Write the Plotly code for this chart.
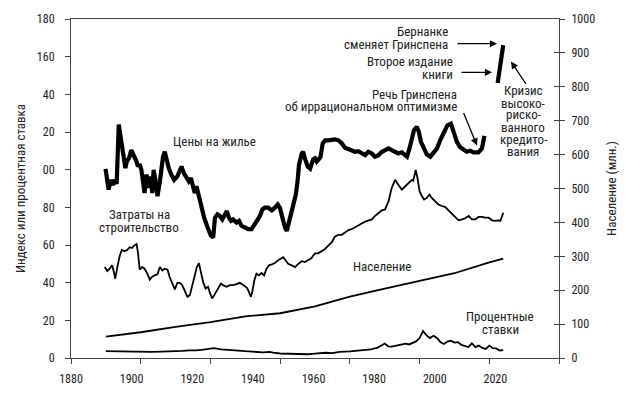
import plotly.graph_objects as go

# ---------------- data ----------------
hp_years = [1889.9, 1890.8, 1891.4, 1892.0, 1892.7, 1893.1, 1893.7, 1894.4, 1894.9, 1895.6,
            1896.0, 1896.7, 1897.3, 1898.0, 1898.8, 1899.2, 1899.7, 1900.2, 1900.7, 1901.1,
            1901.6, 1902.1, 1902.4, 1902.9, 1903.3, 1903.7, 1904.2, 1904.8, 1905.5, 1905.9,
            1906.4, 1906.9, 1907.4, 1908.0, 1908.8, 1909.6, 1910.5, 1911.7, 1912.4, 1913.1,
            1913.8, 1914.4, 1915.0, 1915.5, 1916.0, 1916.7, 1917.4, 1918.2, 1919.2, 1920.1,
            1920.8, 1921.3, 1922.0, 1922.7, 1923.4, 1924.1, 1924.7, 1925.3, 1925.9, 1926.5,
            1927.5, 1928.2, 1928.9, 1929.9, 1930.8, 1931.8, 1932.6, 1933.2, 1934.2, 1934.9,
            1935.6, 1936.6, 1937.6, 1938.5, 1939.3, 1939.9, 1940.6, 1941.4, 1941.9, 1942.3,
            1943.1, 1943.8, 1944.5, 1945.0, 1945.4, 1946.2, 1946.6, 1947.1, 1947.9, 1948.6,
            1949.0, 1949.5, 1950.0, 1950.5, 1950.9, 1951.6, 1952.2, 1952.9, 1953.8, 1954.8,
            1955.7, 1956.7, 1957.7, 1958.6, 1959.6, 1960.5, 1961.5, 1962.4, 1963.4, 1964.4,
            1965.3, 1966.3, 1967.2, 1968.2, 1969.2, 1970.1, 1971.1, 1972.0, 1973.0, 1973.9,
            1974.9, 1975.9, 1976.4, 1977.1, 1977.8, 1978.4, 1979.2, 1979.8, 1980.4, 1981.1,
            1982.1, 1983.1, 1984.0, 1985.0, 1986.0, 1986.9, 1988.0, 1989.0, 1989.9, 1990.7,
            1991.6, 1992.6, 1993.5, 1994.5, 1995.5, 1996.9, 1997.9, 1998.6]
hp_values = [100.4, 89.4, 94.6, 92.0, 94.6, 92.4, 123.9, 114.8, 109.5, 100.8,
             104.3, 106.4, 110.4, 107.7, 104.3, 101.7, 102.9, 99.9, 94.6, 87.6,
             97.3, 94.6, 90.3, 96.4, 87.6, 99.9, 94.6, 85.9, 93.8, 102.5,
             106.9, 109.5, 105.1, 101.1, 97.3, 94.6, 96.4, 101.7, 98.1, 95.5,
             93.8, 95.5, 90.3, 87.6, 91.2, 85.9, 79.8, 74.5, 69.3, 65.2,
             64.0, 74.5, 76.3, 75.4, 73.6, 76.3, 78.0, 74.5, 72.8, 73.6,
             71.9, 72.8, 70.2, 69.3, 68.4, 68.4, 71.0, 71.9, 75.4, 78.9,
             79.8, 79.8, 78.4, 79.8, 81.5, 79.8, 74.5, 69.3, 67.5, 70.2,
             76.3, 81.5, 86.8, 93.8, 102.5, 108.6, 109.5, 106.0, 101.7, 100.6,
             103.0, 105.5, 106.0, 104.3, 105.1, 106.9, 113.9, 115.6, 115.6, 116.1,
             116.1, 115.6, 113.9, 111.6, 110.9, 109.8, 109.5, 109.8, 108.6, 107.7,
             109.5, 108.6, 106.9, 107.7, 109.5, 110.4, 111.3, 110.4, 109.5, 108.6,
             109.2, 107.7, 106.9, 111.3, 116.5, 120.9, 122.8, 120.0, 114.8, 112.0,
             108.0, 106.9, 109.0, 111.3, 116.0, 120.0, 123.5, 124.4, 119.0, 114.8,
             112.0, 110.4, 109.5, 110.0, 109.2, 109.2, 111.3, 117.9]

# the late boom segment drawn separately
hp_boom_years = [2002.4, 2004.0]
hp_boom_values = [146.0, 166.1]

bc_years = [1889.7, 1890.4, 1891.1, 1891.8, 1892.3, 1892.7, 1893.3, 1894.0, 1894.6, 1895.4,
            1896.2, 1896.8, 1897.5, 1898.1, 1898.8, 1899.2, 1899.7, 1900.4, 1901.1, 1901.9,
            1902.6, 1903.2, 1904.0, 1904.8, 1905.5, 1906.2, 1906.9, 1907.7, 1908.3, 1909.0,
            1909.8, 1910.5, 1911.2, 1911.9, 1912.6, 1913.4, 1914.1, 1914.7, 1915.5, 1916.1,
            1916.7, 1917.2, 1917.9, 1918.6, 1919.3, 1919.9, 1920.5, 1921.1, 1922.2, 1923.0,
            1923.6, 1924.6, 1925.6, 1926.5, 1927.5, 1928.4, 1929.4, 1930.4, 1930.8, 1931.6,
            1932.0, 1932.6, 1933.2, 1933.9, 1934.7, 1935.4, 1936.1, 1936.8, 1937.6, 1938.5,
            1939.3, 1939.9, 1940.9, 1941.6, 1942.3, 1943.3, 1944.3, 1945.2, 1946.2, 1947.1,
            1948.1, 1949.0, 1949.5, 1950.0, 1950.9, 1951.9, 1952.9, 1953.8, 1954.8, 1955.7,
            1956.7, 1957.7, 1958.6, 1959.6, 1960.5, 1961.5, 1962.4, 1963.4, 1964.4, 1965.3,
            1966.3, 1967.2, 1968.2, 1969.2, 1970.1, 1971.1, 1972.0, 1973.0, 1973.9, 1974.9,
            1975.9, 1976.8, 1977.8, 1978.2, 1978.9, 1979.4, 1980.0, 1980.7, 1981.3, 1982.1,
            1982.8, 1983.5, 1984.5, 1985.4, 1986.4, 1987.4, 1988.3, 1989.3, 1990.2, 1991.2,
            1992.2, 1993.1, 1994.1, 1995.0, 1996.0, 1996.9, 1997.9, 1998.8, 1999.8, 2000.8,
            2001.7, 2002.7, 2003.2, 2004.0]
bc_values = [48.3, 46.2, 47.4, 49.2, 45.7, 42.1, 48.3, 54.4, 57.4, 56.7,
             57.4, 58.8, 58.4, 59.7, 60.5, 56.2, 46.9, 48.3, 47.4, 44.8,
             41.6, 43.0, 43.9, 44.4, 48.3, 46.5, 47.4, 46.9, 43.0, 39.5,
             36.4, 39.9, 39.9, 38.7, 36.1, 32.5, 33.4, 37.8, 43.0, 48.3,
             50.4, 46.5, 40.4, 36.9, 37.8, 34.3, 31.6, 33.4, 36.9, 39.5,
             38.7, 37.8, 38.7, 38.7, 39.2, 39.9, 38.7, 37.4, 36.1, 32.5,
             35.2, 41.3, 44.8, 43.9, 45.1, 43.9, 47.4, 49.2, 49.7, 50.4,
             51.8, 52.6, 53.5, 51.8, 50.0, 49.2, 48.3, 50.0, 51.4, 50.9,
             51.8, 53.0, 54.4, 55.6, 55.6, 56.7, 57.9, 59.7, 61.4, 64.4,
             65.4, 65.4, 66.6, 67.9, 68.4, 69.3, 70.2, 71.4, 72.4, 73.1,
             73.6, 75.4, 77.1, 78.4, 78.9, 83.3, 90.3, 94.6, 92.0, 89.4,
             91.2, 92.9, 94.6, 94.1, 99.9, 95.5, 88.5, 85.9, 84.1, 85.0,
             86.8, 85.0, 83.3, 81.5, 80.7, 80.1, 78.4, 76.6, 74.5, 73.1,
             73.6, 74.2, 75.4, 73.6, 73.6, 74.9, 74.9, 74.5, 74.5, 73.1,
             72.8, 73.1, 72.8, 77.1]

pop_years = [1890, 1900, 1910, 1920, 1930, 1940, 1950, 1960, 1970, 1980, 1990, 2000, 2004]
pop_values = [63, 76, 92, 106, 123, 132, 152, 181, 205, 227, 250, 282, 293]

ir_years = [1890, 1892, 1895, 1898, 1900, 1903, 1906, 1909, 1912, 1914, 1916, 1918, 1920, 1921,
            1923, 1925, 1928, 1930, 1932, 1935, 1937, 1938, 1940, 1944, 1948, 1950, 1953, 1955,
            1957, 1960, 1963, 1966, 1968, 1970, 1971, 1972, 1974, 1976, 1977, 1978, 1979, 1980,
            1981, 1982, 1983, 1984, 1985, 1986, 1987, 1988, 1989, 1990, 1991, 1992, 1993, 1994,
            1995, 1996, 1997, 1998, 1999, 2000, 2001, 2002, 2003, 2004]
ir_values = [3.7, 3.6, 3.5, 3.3, 3.2, 3.2, 3.4, 3.5, 3.8, 4.1, 4.0, 4.4, 5.0, 5.2,
             4.6, 4.2, 3.7, 3.6, 3.4, 3.0, 3.3, 2.8, 2.4, 2.1, 2.0, 2.3, 2.8, 2.6,
             3.3, 3.5, 3.9, 4.6, 5.5, 7.7, 6.2, 6.0, 6.9, 7.6, 7.2, 7.8, 8.8, 10.6,
             14.4, 12.0, 10.6, 11.8, 10.6, 8.4, 7.4, 8.7, 9.2, 8.2, 8.4, 7.0, 6.6, 5.8,
             7.8, 5.8, 6.6, 5.4, 4.8, 6.6, 5.2, 5.1, 4.0, 4.2]

left_ticks = [0, 20, 40, 60, 80, 100, 120, 140, 160, 180]
left_ticktext = ["0", "20", "40", "60", "80", "00", "20", "40", "160", "180"]
right_ticks = list(range(0, 1001, 100))
year_ticks = list(range(1880, 2021, 20))

# ---------------- figure ----------------
FONT = "Roboto Condensed, Liberation Sans Narrow, DejaVu Sans Condensed, Roboto, sans-serif"
TXT = "#222222"
AX = "#444444"
W, H = 634, 398
L, R, T, B = 71, 75, 19, 36

fig = go.Figure()
fig.add_trace(go.Scatter(x=hp_years, y=hp_values, mode="lines",
                         line=dict(color="black", width=4.2), hoverinfo="skip"))
fig.add_trace(go.Scatter(x=hp_boom_years, y=hp_boom_values, mode="lines",
                         line=dict(color="black", width=4.2), hoverinfo="skip"))
fig.add_trace(go.Scatter(x=bc_years, y=bc_values, mode="lines",
                         line=dict(color="black", width=1.8), hoverinfo="skip"))
fig.add_trace(go.Scatter(x=ir_years, y=ir_values, mode="lines",
                         line=dict(color="black", width=1.8), hoverinfo="skip"))
fig.add_trace(go.Scatter(x=pop_years, y=pop_values, mode="lines", yaxis="y2",
                         line=dict(color="black", width=1.8), hoverinfo="skip"))

# pixel -> paper helpers for annotation placement
pw, ph = W - L - R, H - T - B
def px(x):
    return (x - L) / pw
def py(y):
    return (H - B - y) / ph

anns = []
def label(text, x, y, xanchor="center"):
    anns.append(dict(text=text, x=px(x), y=py(y), xref="paper", yref="paper",
                     xanchor=xanchor, yanchor="middle", showarrow=False,
                     font=dict(family=FONT, size=13, color=TXT)))

label("Цены на жилье", 214, 143)
label("Затраты на", 139, 217)
label("строительство", 139, 230)
label("Население", 382, 269)
label("Процентные", 500, 320)
label("ставки", 500, 333)
label("Речь Гринспена", 459, 95, "right")
label("об иррациональном оптимизме", 459, 108, "right")
label("Бернанке", 450, 32, "right")
label("сменяет Гринспена", 450, 45, "right")
label("Второе издание", 455, 62, "right")
label("книги", 455, 75, "right")
for txt, yy in zip(["Кризис", "высоко-", "риско-", "ванного", "кредито-", "вания"],
                   [91, 104, 116, 129, 141, 153]):
    label(txt, 523, yy)

def arrow(x0, y0, x1, y1):
    anns.append(dict(text="", x=px(x1), y=py(y1), xref="paper", yref="paper",
                     ax=x0 - x1, ay=y0 - y1, axref="pixel", ayref="pixel",
                     showarrow=True, arrowhead=2, arrowsize=1.1, arrowwidth=1.3,
                     arrowcolor="black"))

arrow(463, 113, 477, 147)
arrow(456, 44, 497, 44)
arrow(460, 73, 492, 73)
arrow(527, 86, 511, 62)

axfont = dict(family=FONT, size=12, color=TXT)
fig.update_layout(
    width=W, height=H,
    margin=dict(l=L, r=R, t=T, b=B, pad=0),
    paper_bgcolor="white", plot_bgcolor="white",
    showlegend=False,
    font=axfont,
    annotations=anns,
    xaxis=dict(range=[1880, 2020], tickvals=year_ticks, showticklabels=False,
               ticks="outside", ticklen=5, tickcolor=AX, showline=True, linecolor=AX,
               linewidth=1, mirror=True, showgrid=False, zeroline=False),
    xaxis2=dict(range=[1880, 2041], overlaying="x", anchor="y", side="bottom",
                tickvals=year_ticks, ticks="", showline=False, showgrid=False,
                zeroline=False, tickfont=axfont, ticklabelstandoff=12),
    yaxis=dict(range=[0, 180], tickvals=left_ticks, ticktext=left_ticktext,
               ticks="outside", ticklen=5, tickcolor=AX, showline=True, linecolor=AX,
               linewidth=1, showgrid=False, zeroline=False, tickfont=axfont,
               ticklabelstandoff=8,
               title=dict(text="Индекс или процентная ставка", font=dict(family=FONT, size=13, color=TXT),
                          standoff=8)),
    yaxis2=dict(range=[0, 1000], overlaying="y", side="right", anchor="x",
                tickvals=right_ticks, ticks="outside", ticklen=5, tickcolor=AX,
                showline=True, linecolor=AX, linewidth=1, showgrid=False, zeroline=False,
                tickfont=axfont, ticklabelstandoff=4,
                title=dict(text="Население (млн.)", font=dict(family=FONT, size=13, color=TXT),
                           standoff=12)),
    yaxis3=dict(range=[0, 1000], overlaying="y", side="right", anchor="x",
                tickvals=right_ticks, ticks="inside", ticklen=5, tickcolor=AX,
                showticklabels=False, showline=False, showgrid=False, zeroline=False),
)
# invisible traces to activate the label axis and the inner-tick axis
fig.add_trace(go.Scatter(x=[1880], y=[0], xaxis="x2", mode="markers",
                         marker=dict(opacity=0), hoverinfo="skip"))
fig.add_trace(go.Scatter(x=[2020], y=[0], yaxis="y3", mode="markers",
                         marker=dict(opacity=0), hoverinfo="skip"))

fig.write_html("out.html", config={"displayModeBar": False, "staticPlot": True},
               post_script="document.body.style.margin='0';document.body.style.overflow='hidden';")
